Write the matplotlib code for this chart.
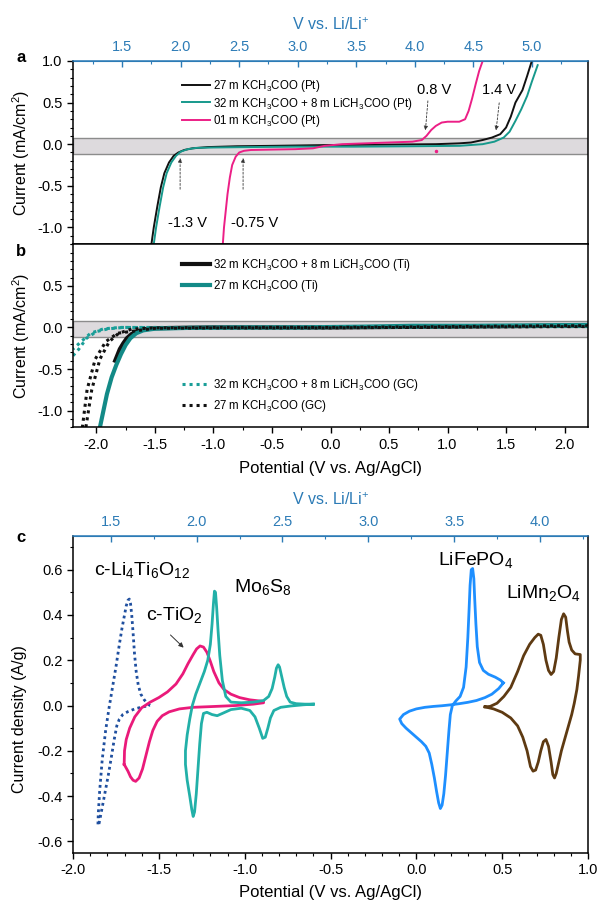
import matplotlib
matplotlib.use("Agg")
import matplotlib.pyplot as plt
from matplotlib.ticker import MultipleLocator

plt.rcParams["font.family"] = ["Liberation Sans", "DejaVu Sans"]
plt.rcParams["mathtext.fontset"] = "custom"
plt.rcParams["mathtext.rm"] = "Liberation Sans"
plt.rcParams["mathtext.it"] = "Liberation Sans:italic"
plt.rcParams["mathtext.bf"] = "Liberation Sans:bold"
plt.rcParams["axes.unicode_minus"] = False

# ---- panel a : Pt electrodes (V vs Ag/AgCl, mA/cm2) ----
pt_k27_v = [-1.53, -1.51, -1.48, -1.45, -1.42, -1.38, -1.34, -1.30, -1.25, -1.18, -1.05, -0.8,
            -0.5, 0.0, 0.5, 0.9, 1.1, 1.2, 1.3, 1.38, 1.45, 1.5, 1.54, 1.58, 1.6, 1.64, 1.68, 1.72]
pt_k27_i = [-1.2, -1.0, -0.75, -0.52, -0.35, -0.22, -0.14, -0.1, -0.07, -0.05, -0.035, -0.025,
            -0.02, -0.01, -0.005, 0.0, 0.01, 0.02, 0.05, 0.08, 0.12, 0.2, 0.33, 0.5, 0.55, 0.65, 0.82, 1.0]
pt_mix_v = [-1.51, -1.49, -1.46, -1.43, -1.40, -1.36, -1.32, -1.28, -1.22, -1.15, -1.0, -0.7,
            -0.3, 0.2, 0.7, 1.1, 1.3, 1.4, 1.48, 1.53, 1.58, 1.63, 1.68, 1.72, 1.77]
pt_mix_i = [-1.2, -1.0, -0.75, -0.52, -0.35, -0.22, -0.14, -0.09, -0.06, -0.045, -0.04, -0.035,
            -0.03, -0.03, -0.025, -0.02, 0.0, 0.03, 0.08, 0.15, 0.28, 0.42, 0.58, 0.75, 0.95]
pt_k01_v = [-0.92, -0.91, -0.895, -0.88, -0.86, -0.84, -0.81, -0.78, -0.74, -0.68, -0.5, -0.3,
            -0.15, -0.05, 0.1, 0.3, 0.5, 0.7, 0.78, 0.82, 0.86, 0.9, 0.95, 1.0, 1.1, 1.15, 1.18,
            1.21, 1.24, 1.27, 1.3]
pt_k01_i = [-1.2, -1.0, -0.8, -0.6, -0.4, -0.25, -0.15, -0.1, -0.08, -0.07, -0.065, -0.06,
            -0.05, -0.02, 0.0, 0.01, 0.02, 0.03, 0.05, 0.1, 0.17, 0.22, 0.26, 0.27, 0.27, 0.3, 0.4,
            0.55, 0.72, 0.88, 1.0]

# ---- panel b : Ti (solid) and glassy carbon (dotted) ----
ti_mix_v = [-1.84, -1.82, -1.80, -1.77, -1.74, -1.70, -1.65, -1.58, -1.5, -1.3, -1.0, -0.5,
            0.0, 0.5, 1.0, 1.5, 2.0, 2.2]
ti_mix_i = [-0.40, -0.33, -0.26, -0.19, -0.13, -0.08, -0.045, -0.02, -0.01, -0.005, 0.0, 0.0,
            0.0, 0.005, 0.01, 0.015, 0.02, 0.02]
ti_k27_v = [-1.97, -1.94, -1.91, -1.87, -1.83, -1.79, -1.75, -1.71, -1.66, -1.6, -1.5, -1.2,
            -0.8, -0.3, 0.3, 0.7, 1.2, 1.7, 2.2]
ti_k27_i = [-1.2, -1.0, -0.8, -0.6, -0.45, -0.32, -0.21, -0.13, -0.07, -0.035, -0.015, -0.005,
            0.0, 0.0, 0.01, 0.02, 0.02, 0.025, 0.03]
gc_mix_v = [-2.2, -2.15, -2.085, -2.0, -1.9, -1.77, -1.5, -1.0, 0.0, 1.0, 1.5, 2.0, 2.2,
            2.2, 1.5, 0.5, -1.0, -1.8, -1.94, -2.05, -2.13, -2.2]
gc_mix_i = [-0.34, -0.26, -0.13, -0.05, -0.017, 0.0, 0.0, 0.0, 0.005, 0.015, 0.02, 0.02, 0.02,
            0.01, 0.01, 0.0, -0.005, 0.0, -0.017, -0.07, -0.17, -0.26]
gc_k27_v = [-2.09, -2.04, -1.97, -1.89, -1.81, -1.70, -1.5, -1.0, 0.0, 1.0, 2.0, 2.2,
            2.2, 1.0, 0.0, -1.0, -1.5, -1.82, -1.92, -2.01, -2.08, -2.12]
gc_k27_i = [-1.2, -0.75, -0.38, -0.17, -0.07, -0.02, -0.005, 0.0, 0.0, 0.01, 0.02, 0.02,
            0.01, 0.005, -0.005, -0.005, -0.01, -0.07, -0.17, -0.38, -0.75, -1.2]

# ---- panel c : CVs of electrode materials (A/g) ----
lto_v = [-1.552, -1.565, -1.585, -1.605, -1.62, -1.632, -1.642, -1.65, -1.658, -1.665, -1.672,
         -1.68, -1.69, -1.70, -1.715, -1.73, -1.75, -1.77, -1.79, -1.81, -1.83, -1.845, -1.853,
         -1.855, -1.848, -1.835, -1.815, -1.795, -1.775, -1.76, -1.745, -1.73, -1.71, -1.68,
         -1.64, -1.60, -1.552]
lto_i = [0.0, 0.008, 0.025, 0.05, 0.09, 0.15, 0.23, 0.32, 0.40, 0.45, 0.47, 0.465, 0.44, 0.40,
         0.34, 0.27, 0.17, 0.08, -0.01, -0.11, -0.24, -0.38, -0.48, -0.53, -0.52, -0.47, -0.39,
         -0.31, -0.22, -0.15, -0.09, -0.06, -0.04, -0.027, -0.015, -0.007, 0.0]
tio2_v = [-1.702, -1.70, -1.69, -1.67, -1.64, -1.60, -1.55, -1.5, -1.45, -1.40, -1.36, -1.33,
          -1.30, -1.28, -1.26, -1.24, -1.22, -1.20, -1.18, -1.15, -1.12, -1.08, -1.03, -0.97,
          -0.89, -0.89, -0.95, -1.05, -1.2, -1.3, -1.38, -1.44, -1.48, -1.51, -1.535, -1.555,
          -1.575, -1.595, -1.615, -1.635, -1.65, -1.665, -1.68, -1.702]
tio2_i = [-0.26, -0.2, -0.15, -0.1, -0.05, -0.01, 0.015, 0.035, 0.06, 0.095, 0.14, 0.185, 0.225,
          0.25, 0.263, 0.258, 0.235, 0.195, 0.15, 0.1, 0.07, 0.05, 0.035, 0.025, 0.018, 0.012,
          0.006, 0.0, -0.005, -0.008, -0.015, -0.028, -0.045, -0.07, -0.11, -0.16, -0.22, -0.28,
          -0.32, -0.335, -0.33, -0.315, -0.29, -0.26]
mo_v = [-0.60, -0.65, -0.70, -0.735, -0.755, -0.77, -0.785, -0.797, -0.805, -0.815, -0.825,
        -0.84, -0.86, -0.89, -0.95, -1.02, -1.08, -1.11, -1.13, -1.145, -1.155, -1.163, -1.17,
        -1.176, -1.182, -1.19, -1.20, -1.215, -1.235, -1.26, -1.285, -1.305, -1.32, -1.335,
        -1.345, -1.345, -1.335, -1.32, -1.308, -1.30, -1.292, -1.282, -1.272, -1.262, -1.252,
        -1.24, -1.22, -1.19, -1.16, -1.13, -1.08, -1.02, -0.97, -0.94, -0.915, -0.895, -0.88,
        -0.865, -0.85, -0.83, -0.79, -0.73, -0.66, -0.60]
mo_i = [0.006, 0.006, 0.008, 0.015, 0.04, 0.08, 0.13, 0.17, 0.18, 0.165, 0.125, 0.075, 0.04,
        0.022, 0.015, 0.012, 0.015, 0.04, 0.11, 0.22, 0.33, 0.43, 0.5, 0.505, 0.45, 0.36, 0.27,
        0.2, 0.15, 0.1, 0.05, 0.0, -0.06, -0.13, -0.2, -0.26, -0.33, -0.4, -0.46, -0.49, -0.47,
        -0.39, -0.28, -0.17, -0.08, -0.035, -0.03, -0.04, -0.045, -0.035, -0.018, -0.012, -0.022,
        -0.05, -0.1, -0.145, -0.14, -0.1, -0.055, -0.022, -0.008, -0.002, 0.003, 0.006]
lfp_v = [0.507, 0.48, 0.44, 0.40, 0.35, 0.30, 0.25, 0.20, 0.15, 0.10, 0.05, 0.0, -0.04, -0.075,
         -0.097, -0.085, -0.06, -0.03, 0.0, 0.03, 0.055, 0.075, 0.09, 0.105, 0.118, 0.13, 0.14,
         0.15, 0.16, 0.17, 0.18, 0.19, 0.198, 0.21, 0.23, 0.255, 0.275, 0.29, 0.30, 0.307, 0.313,
         0.32, 0.328, 0.335, 0.34, 0.347, 0.355, 0.368, 0.39, 0.42, 0.46, 0.49, 0.507]
lfp_i = [0.10, 0.075, 0.05, 0.035, 0.022, 0.014, 0.008, 0.003, -0.001, -0.004, -0.008, -0.015,
         -0.025, -0.04, -0.06, -0.08, -0.1, -0.12, -0.14, -0.16, -0.18, -0.21, -0.26, -0.32,
         -0.38, -0.43, -0.455, -0.44, -0.39, -0.31, -0.21, -0.11, -0.04, 0.0, 0.02, 0.04, 0.08,
         0.17, 0.3, 0.42, 0.53, 0.6, 0.605, 0.56, 0.47, 0.36, 0.26, 0.19, 0.155, 0.138, 0.125,
         0.112, 0.10]
lmo_v = [0.40, 0.43, 0.47, 0.51, 0.55, 0.59, 0.625, 0.66, 0.69, 0.71, 0.725, 0.74, 0.755, 0.77,
         0.785, 0.80, 0.815, 0.83, 0.845, 0.858, 0.87, 0.88, 0.89, 0.905, 0.925, 0.955, 0.955,
         0.945, 0.935, 0.92, 0.905, 0.89, 0.875, 0.86, 0.845, 0.83, 0.815, 0.805, 0.795, 0.785,
         0.77, 0.755, 0.74, 0.725, 0.71, 0.695, 0.68, 0.665, 0.645, 0.62, 0.59, 0.55, 0.5, 0.45,
         0.40]
lmo_i = [-0.006, -0.004, 0.01, 0.04, 0.08, 0.15, 0.22, 0.27, 0.3, 0.315, 0.31, 0.27, 0.2, 0.155,
         0.137, 0.15, 0.21, 0.3, 0.38, 0.405, 0.39, 0.33, 0.28, 0.245, 0.228, 0.225, 0.2, 0.13,
         0.07, 0.01, -0.04, -0.08, -0.12, -0.16, -0.2, -0.25, -0.3, -0.32, -0.305, -0.25, -0.18,
         -0.15, -0.16, -0.2, -0.25, -0.285, -0.29, -0.27, -0.2, -0.14, -0.09, -0.055, -0.03,
         -0.015, -0.006]

OFFSET = 3.28  # Ag/AgCl -> Li/Li+
TOP_BLUE = "#2c7bb6"
TEAL_A = "#17998c"
TEAL_B = "#138a87"
PINK = "#ec1f86"


def style_axis(ax):
    for s in ax.spines.values():
        s.set_linewidth(1.1)
    ax.spines["top"].set_color(TOP_BLUE)
    ax.tick_params(axis="both", which="major", direction="out", length=4, width=1,
                   labelsize=10.5, top=False, right=False)
    ax.tick_params(axis="both", which="minor", direction="out", length=2.5, width=0.8,
                   top=False, right=False)


def add_li_axis(ax, lo, hi):
    sec = ax.secondary_xaxis("top", functions=(lambda x: x + OFFSET, lambda x: x - OFFSET))
    sec.set_xticks([v / 2 for v in range(int(lo * 2), int(hi * 2) + 1)])
    sec.xaxis.set_minor_locator(MultipleLocator(0.25))
    sec.tick_params(which="major", direction="in", length=4, width=1, colors=TOP_BLUE,
                    labelsize=10.5, pad=5)
    sec.tick_params(which="minor", direction="in", length=2.5, width=0.8, colors=TOP_BLUE)
    sec.spines["top"].set_color(TOP_BLUE)
    sec.set_xlabel("V vs. Li/Li$^{+}$", color=TOP_BLUE, fontsize=11.5, labelpad=7)
    return sec


fig = plt.figure(figsize=(6, 9.05), dpi=100)
ax_a = fig.add_axes([0.1217, 0.7304, 0.8583, 0.2022])
ax_b = fig.add_axes([0.1217, 0.5279, 0.8583, 0.2022])
ax_c = fig.add_axes([0.1217, 0.0578, 0.8583, 0.3503])

# ---------------- panels a and b share the frame ----------------
for ax in (ax_a, ax_b):
    ax.axhspan(-0.115, 0.08, facecolor="#dddadd", edgecolor="#8c8c8c", lw=1.0, zorder=0)
    ax.set_xlim(-2.2, 2.2)
    ax.set_ylim(-1.2, 1.0)
    ax.set_yticks([-1.0, -0.5, 0.0, 0.5, 1.0])
    ax.yaxis.set_minor_locator(MultipleLocator(0.1))
    ax.set_xticks([-2.0, -1.5, -1.0, -0.5, 0.0, 0.5, 1.0, 1.5, 2.0])
    style_axis(ax)
    ax.set_ylabel("Current (mA/cm$^2$)", fontsize=11.5, labelpad=4)

ax_a.plot(pt_k27_v, pt_k27_i, color="#111111", lw=1.4, label="27 m KCH$_3$COO (Pt)")
ax_a.plot(pt_mix_v, pt_mix_i, color=TEAL_A, lw=1.4,
          label="32 m KCH$_3$COO + 8 m LiCH$_3$COO (Pt)")
ax_a.plot(pt_k01_v, pt_k01_i, color=PINK, lw=1.4, label="01 m KCH$_3$COO (Pt)")
ax_a.plot([0.9], [-0.08], marker="o", ms=1.5, color=PINK, ls="none")
ax_a.tick_params(axis="x", labelbottom=False)
ax_a.legend(loc="upper left", bbox_to_anchor=(0.212, 0.905), frameon=False, fontsize=8.3,
            handlelength=2.4, handletextpad=0.25, labelspacing=0.1, borderpad=0,
            borderaxespad=0)
add_li_axis(ax_a, 1.5, 5.0)

arrow_kw = dict(arrowstyle="-|>", color="#333333", lw=0.6, ls=(0, (2.5, 2)), mutation_scale=6)
ax_a.annotate("", xy=(0.809, 0.133), xytext=(0.834, 0.554), arrowprops=arrow_kw)
ax_a.annotate("", xy=(1.412, 0.133), xytext=(1.444, 0.53), arrowprops=arrow_kw)
ax_a.annotate("", xy=(-1.285, -0.133), xytext=(-1.285, -0.575), arrowprops=arrow_kw)
ax_a.annotate("", xy=(-0.747, -0.133), xytext=(-0.747, -0.575), arrowprops=arrow_kw)
ax_a.text(0.885, 0.65, "0.8 V", fontsize=10.5, ha="center", va="center")
ax_a.text(1.441, 0.65, "1.4 V", fontsize=10.5, ha="center", va="center")
ax_a.text(-1.221, -0.948, "-1.3 V", fontsize=10.5, ha="center", va="center")
ax_a.text(-0.649, -0.948, "-0.75 V", fontsize=10.5, ha="center", va="center")

# ---------------- panel b ----------------
ax_b.set_yticks([-1.0, -0.5, 0.0, 0.5])
ax_b.xaxis.set_minor_locator(MultipleLocator(0.25))
ax_b.spines["top"].set_color("black")
h1, = ax_b.plot(ti_mix_v, ti_mix_i, color="#111111", lw=3.0,
                label="32 m KCH$_3$COO + 8 m LiCH$_3$COO (Ti)")
h2, = ax_b.plot(ti_k27_v, ti_k27_i, color=TEAL_B, lw=3.0, label="27 m KCH$_3$COO (Ti)")
h3, = ax_b.plot(gc_mix_v, gc_mix_i, color="#1a9e98", lw=2.2, ls=(0, (1, 1.3)),
                label="32 m KCH$_3$COO + 8 m LiCH$_3$COO (GC)")
h4, = ax_b.plot(gc_k27_v, gc_k27_i, color="#111111", lw=2.2, ls=(0, (1, 1.3)),
                label="27 m KCH$_3$COO (GC)")
leg_kw = dict(loc="upper left", frameon=False, fontsize=8.3, handlelength=2.4,
              handletextpad=0.25, labelspacing=0.45, borderpad=0, borderaxespad=0)
leg1 = ax_b.legend(handles=[h1, h2], bbox_to_anchor=(0.212, 0.93), **leg_kw)
ax_b.add_artist(leg1)
ax_b.legend(handles=[h3, h4], bbox_to_anchor=(0.212, 0.275), **leg_kw)
ax_b.set_xlabel("Potential (V vs. Ag/AgCl)", fontsize=12, labelpad=7)

# ---------------- panel c ----------------
ax_c.set_xlim(-2.0, 1.0)
ax_c.set_ylim(-0.65, 0.75)
ax_c.set_xticks([-2.0, -1.5, -1.0, -0.5, 0.0, 0.5, 1.0])
ax_c.xaxis.set_minor_locator(MultipleLocator(0.1))
ax_c.set_yticks([-0.6, -0.4, -0.2, 0.0, 0.2, 0.4, 0.6])
ax_c.yaxis.set_minor_locator(MultipleLocator(0.1))
style_axis(ax_c)
ax_c.plot(lto_v, lto_i, color="#1f4f9f", lw=2.0, ls=(0, (1, 1.2)))
ax_c.plot(tio2_v, tio2_i, color="#ea1a7a", lw=2.0)
ax_c.plot(mo_v, mo_i, color="#22b0a8", lw=2.0)
ax_c.plot(lfp_v, lfp_i, color="#1e8fff", lw=2.0)
ax_c.plot(lmo_v, lmo_i, color="#5e3a12", lw=2.0)
ax_c.set_xlabel("Potential (V vs. Ag/AgCl)", fontsize=12, labelpad=6)
ax_c.set_ylabel("Current density (A/g)", fontsize=11.5, labelpad=4)
ax_c.yaxis.set_label_coords(-0.09, 0.42)
add_li_axis(ax_c, 1.5, 4.0)

ax_c.text(-1.598, 0.6, "c-Li$_4$Ti$_6$O$_{12}$", fontsize=14, ha="center", va="center")
ax_c.text(-0.893, 0.524, "Mo$_6$S$_8$", fontsize=14, ha="center", va="center")
ax_c.text(0.343, 0.643, "LiFePO$_4$", fontsize=14, ha="center", va="center")
ax_c.text(0.739, 0.498, "LiMn$_2$O$_4$", fontsize=14, ha="center", va="center")
ax_c.text(-1.41, 0.40, "c-TiO$_2$", fontsize=14, ha="center", va="center")
ax_c.annotate("", xy=(-1.344, 0.247), xytext=(-1.444, 0.32),
              arrowprops=dict(arrowstyle="-|>", color="#333333", lw=0.7, mutation_scale=7))

fig.text(0.035, 1 - 58 / 905, "a", fontsize=12, fontweight="bold", ha="center", va="center")
fig.text(0.035, 1 - 252 / 905, "b", fontsize=12, fontweight="bold", ha="center", va="center")
fig.text(0.035, 1 - 538 / 905, "c", fontsize=12, fontweight="bold", ha="center", va="center")

fig.savefig("out.png", dpi=100)
